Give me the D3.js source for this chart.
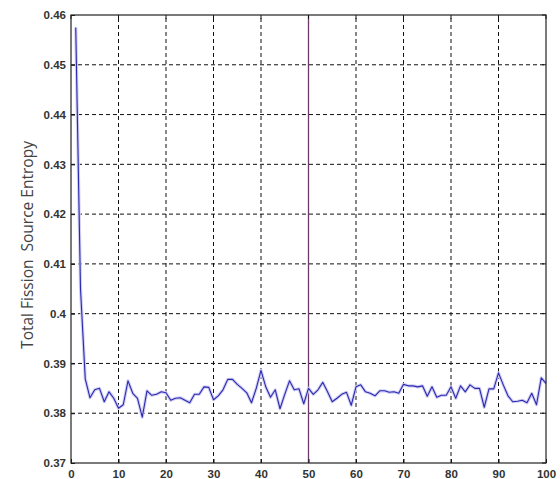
<!DOCTYPE html>
<html><head><meta charset="utf-8">
<script src="https://cdn.jsdelivr.net/npm/d3@7"></script>
<style>body{margin:0;background:#fff}svg{display:block}</style>
</head><body><div id="chart"></div>
<script>
const cycles = d3.range(1, 101);
const entropy = [
0.4575,0.405,0.3869,0.3831,0.3847,0.385,0.3823,0.3843,0.383,0.381,
0.3817,0.3865,0.384,0.383,0.3792,0.3845,0.3836,0.3838,0.3843,0.3841,
0.3826,0.383,0.3831,0.3826,0.3821,0.3838,0.3838,0.3853,0.3852,0.3827,
0.3835,0.3847,0.3868,0.3868,0.3858,0.385,0.3841,0.3821,0.385,0.3886,
0.3853,0.3832,0.3847,0.3809,0.3838,0.3865,0.3847,0.3849,0.3819,0.385,
0.3838,0.3847,0.3862,0.3843,0.3823,0.383,0.3838,0.3842,0.3816,0.3853,
0.3857,0.3843,0.384,0.3835,0.3845,0.3845,0.3842,0.3843,0.384,0.3858,
0.3855,0.3855,0.3853,0.3855,0.3834,0.3853,0.3832,0.3836,0.3836,0.3853,
0.383,0.3855,0.3843,0.3857,0.385,0.385,0.3812,0.3849,0.3849,0.3881,
0.3857,0.3835,0.3823,0.3824,0.3826,0.3821,0.384,0.3817,0.3871,0.386];
const xTicks = [0,10,20,30,40,50,60,70,80,90,100];
const yTicks = [0.37,0.38,0.39,0.40,0.41,0.42,0.43,0.44,0.45,0.46];
const yTickLabels = ["0.37","0.38","0.39","0.4","0.41","0.42","0.43","0.44","0.45","0.46"];
const markerCycle = [50];
const yLabel = "Total Fission\u00a0 Source Entropy";

const W = 560, H = 479;
const m = {left: 71, right: 14, top: 15, bottom: 16};
const svg = d3.select("#chart").append("svg").attr("width", W).attr("height", H);
const x = d3.scaleLinear().domain([0, 100]).range([m.left, W - m.right]);
const y = d3.scaleLinear().domain([0.37, 0.46]).range([H - m.bottom, m.top]);

// grid
const g = svg.append("g");
g.selectAll(".vg").data(xTicks.slice(1, -1)).enter().append("line")
  .attr("x1", d => x(d)).attr("x2", d => x(d)).attr("y1", y(0.37)).attr("y2", y(0.46))
  .attr("stroke", "#111").attr("stroke-width", 1).attr("stroke-dasharray", "4,3");
g.selectAll(".hg").data(yTicks.slice(1, -1)).enter().append("line")
  .attr("y1", d => y(d)).attr("y2", d => y(d)).attr("x1", x(0)).attr("x2", x(100))
  .attr("stroke", "#111").attr("stroke-width", 1).attr("stroke-dasharray", "4,3");

// marker line
g.selectAll(".mk").data(markerCycle).enter().append("line")
  .attr("x1", d => x(d)).attr("x2", d => x(d)).attr("y1", y(0.37)).attr("y2", y(0.46))
  .attr("stroke", "#6a3a6a").attr("stroke-width", 1.3);

// data line
const pts = cycles.map((c, i) => [c, entropy[i]]);
const line = d3.line().x(d => x(d[0])).y(d => y(d[1]));
svg.append("path").datum(pts).attr("d", line).attr("fill", "none")
  .attr("stroke", "#d2cff3").attr("stroke-width", 3.2).attr("stroke-linejoin", "round");
svg.append("path").datum(pts).attr("d", line).attr("fill", "none")
  .attr("stroke", "#2a2ab0").attr("stroke-width", 1.1).attr("stroke-linejoin", "round");

// axes
const xa = svg.append("g").attr("transform", `translate(0,${y(0.37)})`)
  .call(d3.axisBottom(x).tickValues(xTicks).tickSize(-4).tickPadding(9).tickFormat(d3.format("d")));
const ya = svg.append("g").attr("transform", `translate(${x(0)},0)`)
  .call(d3.axisLeft(y).tickValues(yTicks).tickSize(-4).tickPadding(5)
    .tickFormat((d, i) => yTickLabels[i]));
[xa, ya].forEach(a => {
  a.select(".domain").remove();
  a.selectAll(".tick line").attr("stroke", "#111");
  a.selectAll("text").attr("font-family", "Liberation Sans, Arial, sans-serif")
    .attr("font-size", 11.5).attr("font-weight", "bold").attr("fill", "#333");
});
xa.selectAll("text").attr("dy", "0.55em");
// right ticks / top ticks
svg.append("g").selectAll("line").data(yTicks).enter().append("line")
  .attr("x1", x(100)).attr("x2", x(100) - 4).attr("y1", d => y(d)).attr("y2", d => y(d)).attr("stroke", "#111");
svg.append("g").selectAll("line").data(xTicks).enter().append("line")
  .attr("y1", y(0.46)).attr("y2", y(0.46) + 4).attr("x1", d => x(d)).attr("x2", d => x(d)).attr("stroke", "#111");

// box
svg.append("rect").attr("x", x(0)).attr("y", y(0.46))
  .attr("width", x(100) - x(0)).attr("height", y(0.37) - y(0.46))
  .attr("fill", "none").attr("stroke", "#222").attr("stroke-width", 1.2);

// y label
svg.append("text").attr("transform", `translate(33,${(y(0.37) + y(0.46)) / 2 + 6}) rotate(-90)`)
  .attr("text-anchor", "middle").attr("font-family", "Open Sans, Liberation Sans, sans-serif")
  .attr("font-size", 15.5).attr("fill", "#444").text(yLabel);
</script>
</body></html>
